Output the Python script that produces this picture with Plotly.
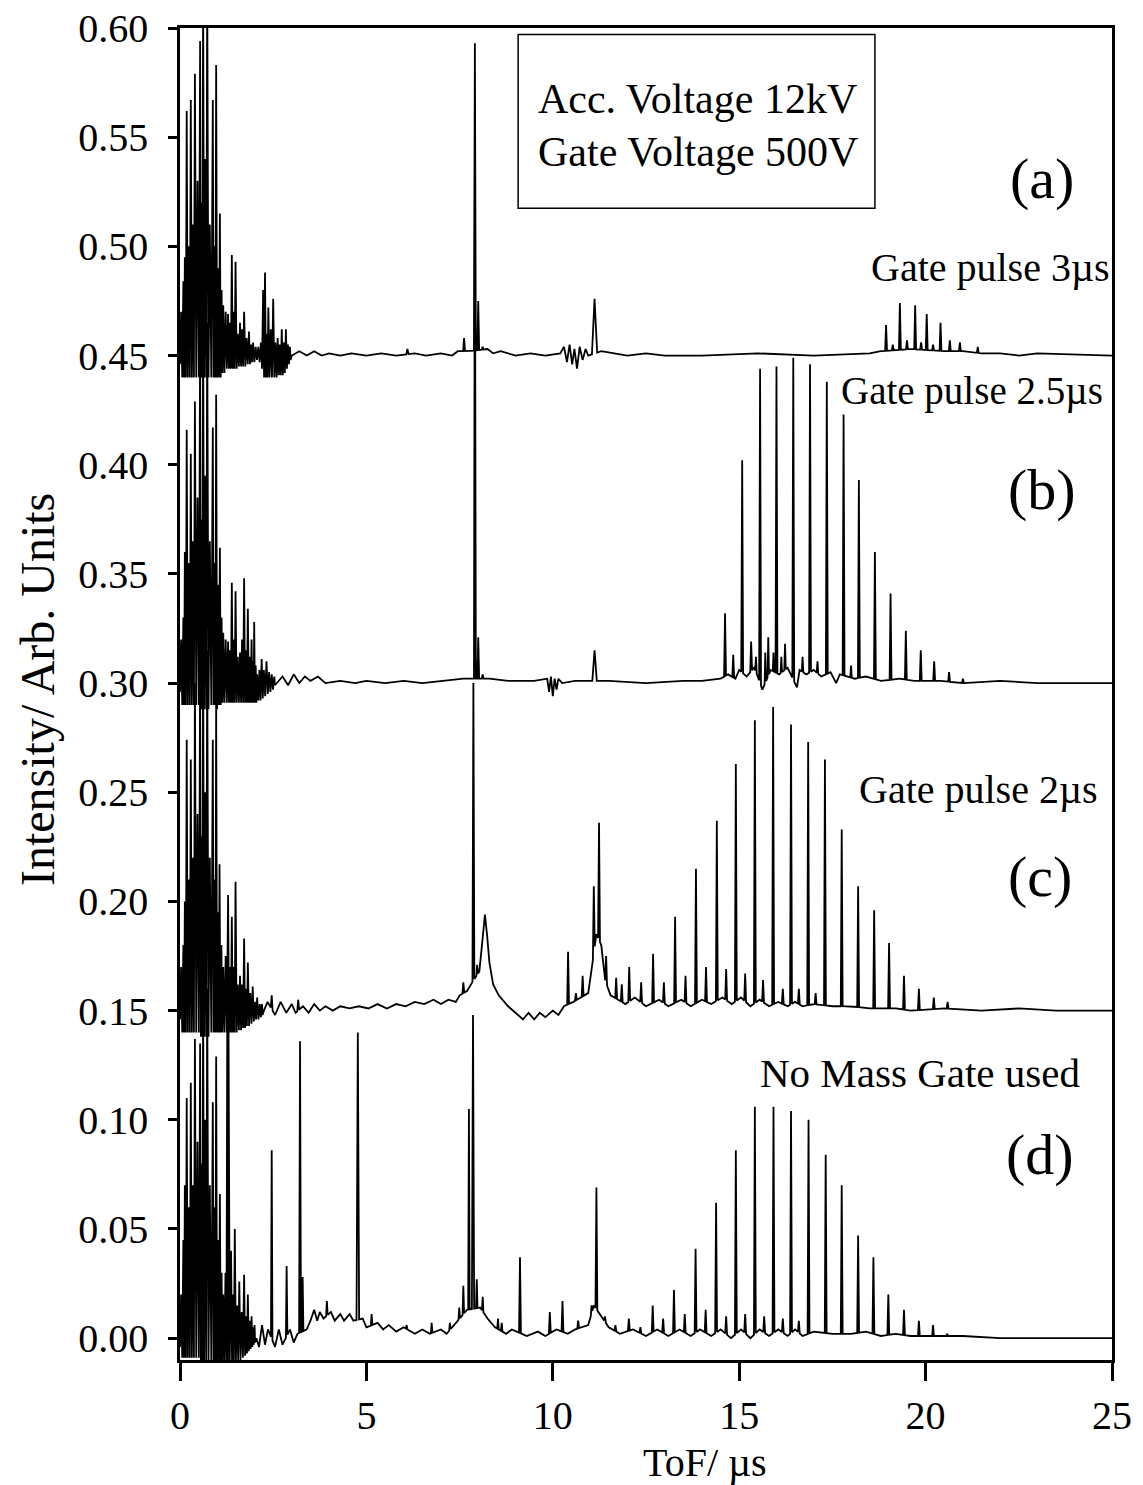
import numpy as np
import plotly.graph_objects as go

# ---------------- data ----------------
# vertical offsets of the four stacked spectra
offset_a, offset_b, offset_c, offset_d = 0.45, 0.30, 0.15, 0.00

x_ticks = [0, 5, 10, 15, 20, 25]
y_ticks = [0.00, 0.05, 0.10, 0.15, 0.20, 0.25, 0.30, 0.35, 0.40, 0.45, 0.50, 0.55, 0.60]
y_labels = ["%.2f" % v for v in y_ticks]

# early "ringing" region: (peak position, peak top above offset, trough after peak)
ring_a = [(0.03,0.020,-0.010),(0.09,0.034,-0.010),(0.13,0.045,-0.010),(0.18,0.112,-0.010),
          (0.235,0.050,-0.010),(0.29,0.117,-0.010),(0.345,0.060,-0.010),(0.40,0.129,-0.010),
          (0.47,0.080,-0.010),(0.54,0.144,-0.010),(0.58,0.070,-0.010),(0.62,0.170,-0.010),
          (0.675,0.090,-0.010),(0.73,0.170,-0.010),(0.80,0.060,-0.010),(0.88,0.117,-0.010),
          (0.925,0.050,-0.010),(0.97,0.133,-0.010),(1.02,0.040,-0.010),(1.07,0.065,-0.010),
          (1.115,0.030,-0.008),(1.16,0.023,-0.008),(1.225,0.020,-0.006),(1.29,0.019,-0.006),
          (1.34,0.015,-0.006),(1.39,0.046,-0.006),(1.44,0.020,-0.006),(1.49,0.043,-0.006),
          (1.55,0.010,-0.005),(1.61,0.015,-0.005),(1.665,0.012,-0.005),(1.72,0.020,-0.005),
          (1.785,0.008,-0.004),(1.85,0.011,-0.004),(1.905,0.005,-0.003),(1.96,0.006,-0.003),
          (2.03,0.004,-0.002),(2.10,0.004,-0.003),(2.17,0.006,-0.006),(2.23,0.030,-0.010),
          (2.28,0.038,-0.010),(2.33,0.010,-0.010),(2.37,0.022,-0.010),(2.435,0.012,-0.010),
          (2.50,0.026,-0.010),(2.56,0.006,-0.010),(2.62,0.008,-0.009),(2.675,0.005,-0.009),
          (2.73,0.012,-0.009),(2.785,0.006,-0.008),(2.84,0.012,-0.006),(2.895,0.005,-0.004),
          (2.95,0.004,-0.002)]
ring_b = [(0.03,0.020,-0.010),(0.09,0.030,-0.010),(0.13,0.060,-0.010),(0.18,0.116,-0.010),
          (0.235,0.055,-0.010),(0.29,0.105,-0.010),(0.345,0.065,-0.010),(0.40,0.129,-0.010),
          (0.47,0.085,-0.010),(0.54,0.160,-0.012),(0.58,0.075,-0.012),(0.62,0.170,-0.012),
          (0.675,0.095,-0.012),(0.73,0.165,-0.012),(0.80,0.065,-0.010),(0.88,0.117,-0.010),
          (0.925,0.055,-0.010),(0.97,0.132,-0.012),(1.02,0.045,-0.010),(1.07,0.062,-0.010),
          (1.115,0.030,-0.009),(1.16,0.023,-0.009),(1.225,0.020,-0.009),(1.29,0.019,-0.009),
          (1.34,0.015,-0.009),(1.39,0.046,-0.009),(1.44,0.020,-0.009),(1.49,0.042,-0.009),
          (1.55,0.012,-0.009),(1.61,0.014,-0.009),(1.665,0.020,-0.009),(1.72,0.048,-0.009),
          (1.77,0.015,-0.009),(1.82,0.034,-0.009),(1.87,0.012,-0.009),(1.92,0.020,-0.009),
          (1.96,0.010,-0.009),(1.99,0.028,-0.009),(2.03,0.008,-0.009),(2.07,0.004,-0.008),
          (2.13,0.006,-0.008),(2.19,0.011,-0.007),(2.25,0.006,-0.006),(2.32,0.010,-0.005),
          (2.39,0.005,-0.004),(2.46,0.004,-0.003),(2.53,0.003,-0.001)]
ring_c = [(0.03,0.020,-0.010),(0.09,0.030,-0.010),(0.13,0.050,-0.010),(0.18,0.124,-0.010),
          (0.235,0.060,-0.010),(0.29,0.115,-0.010),(0.345,0.070,-0.010),(0.40,0.150,-0.010),
          (0.47,0.090,-0.010),(0.54,0.160,-0.012),(0.58,0.080,-0.012),(0.62,0.170,-0.012),
          (0.675,0.100,-0.012),(0.73,0.165,-0.012),(0.80,0.070,-0.010),(0.88,0.124,-0.010),
          (0.925,0.060,-0.010),(0.97,0.140,-0.010),(1.02,0.045,-0.010),(1.06,0.067,-0.010),
          (1.11,0.030,-0.010),(1.16,0.020,-0.010),(1.225,0.025,-0.010),(1.29,0.053,-0.010),
          (1.34,0.020,-0.010),(1.39,0.043,-0.010),(1.44,0.020,-0.010),(1.49,0.059,-0.010),
          (1.55,0.012,-0.009),(1.61,0.016,-0.009),(1.665,0.012,-0.008),(1.72,0.033,-0.008),
          (1.77,0.010,-0.007),(1.82,0.022,-0.007),(1.885,0.008,-0.006),(1.95,0.011,-0.005),
          (2.01,0.004,-0.004),(2.07,0.006,-0.004),(2.14,0.003,-0.003),(2.20,0.003,-0.002)]
ring_d = [(0.03,0.020,-0.009),(0.09,0.045,-0.009),(0.13,0.070,-0.009),(0.18,0.110,-0.009),
          (0.235,0.060,-0.009),(0.29,0.117,-0.009),(0.345,0.070,-0.009),(0.40,0.137,-0.009),
          (0.47,0.090,-0.009),(0.54,0.135,-0.010),(0.58,0.080,-0.010),(0.62,0.160,-0.010),
          (0.675,0.100,-0.010),(0.73,0.160,-0.010),(0.80,0.070,-0.010),(0.88,0.108,-0.010),
          (0.925,0.060,-0.010),(0.97,0.129,-0.010),(1.02,0.045,-0.010),(1.07,0.066,-0.010),
          (1.115,0.030,-0.010),(1.16,0.020,-0.010),(1.22,0.030,-0.010),(1.27,0.160,-0.010),
          (1.30,0.150,-0.010),(1.37,0.040,-0.010),(1.42,0.020,-0.010),(1.47,0.050,-0.010),
          (1.53,0.015,-0.010),(1.59,0.026,-0.010),(1.655,0.012,-0.009),(1.72,0.029,-0.008),
          (1.77,0.010,-0.007),(1.82,0.020,-0.006),(1.87,0.008,-0.005),(1.92,0.010,-0.004),
          (1.96,0.005,-0.003),(2.00,0.006,-0.002)]

# baseline knots (position, level above offset), including the visible noise wiggles
base_a = [(3.0,0.000),(3.2,0.002),(3.4,0.000),(3.6,0.002),(3.8,0.000),(4.0,0.001),(4.3,0.000),
          (4.6,0.001),(5.0,0.000),(5.4,0.001),(5.8,0.000),(6.3,0.001),(6.6,0.000),(7.0,0.001),
          (7.3,0.000),(7.45,0.002),(7.8,0.002),(8.25,0.003),(8.4,0.001),(8.6,0.002),(9.0,0.000),
          (9.4,0.001),(9.8,0.000),(10.2,0.001),(10.3,0.004),(10.38,-0.003),(10.45,0.005),
          (10.52,-0.004),(10.58,0.003),(10.65,-0.006),(10.72,0.004),(10.8,-0.002),(10.88,0.003),
          (10.95,0.000),(11.3,0.002),(11.6,0.001),(12.0,0.000),(12.5,0.001),(13.0,0.000),
          (14.0,0.000),(15.5,0.001),(17.0,0.000),(18.5,0.001),(18.8,0.002),(19.6,0.003),
          (20.5,0.002),(21.0,0.002),(21.5,0.001),(22.0,0.001),(22.5,0.000),(23.0,0.001),(25.0,0.000)]
base_b = [(2.6,0.000),(2.75,0.003),(2.9,-0.001),(3.05,0.004),(3.2,0.000),(3.35,0.003),(3.5,0.001),
          (3.7,0.003),(3.9,0.000),(4.3,0.001),(4.7,0.000),(5.0,0.001),(5.5,0.000),(6.0,0.001),
          (6.5,0.000),(7.0,0.001),(7.6,0.002),(8.3,0.002),(8.8,0.001),(9.5,0.001),(9.85,0.002),
          (9.9,-0.004),(9.95,0.003),(10.0,-0.006),(10.05,0.002),(10.1,-0.003),(10.15,0.002),
          (10.25,0.000),(10.6,0.001),(11.5,0.001),(12.5,0.000),(13.5,0.001),(14.0,0.001),
          (14.5,0.002),(14.7,0.004),(14.9,0.002),(15.0,0.006),(15.2,0.003),(15.4,0.007),
          (15.5,0.003),(15.62,-0.003),(15.85,0.006),(16.07,0.004),(16.3,0.007),(16.55,-0.002),
          (16.62,0.006),(16.8,0.004),(17.0,0.006),(17.2,0.003),(17.45,0.005),(17.6,0.000),
          (17.7,0.004),(18.1,0.002),(18.4,0.003),(18.8,0.001),(19.3,0.002),(19.7,0.001),
          (20.0,0.001),(20.4,0.001),(21.0,0.000),(22.0,0.001),(23.0,0.000),(25.0,0.000)]
base_c = [(2.25,0.000),(2.35,0.004),(2.55,-0.002),(2.7,0.004),(2.85,-0.001),(3.0,0.003),(3.1,-0.001),
          (3.3,0.002),(3.45,-0.001),(3.6,0.003),(3.75,0.000),(3.9,0.002),(4.1,0.000),(4.3,0.002),
          (4.55,0.001),(4.8,0.002),(5.05,0.001),(5.3,0.003),(5.55,0.001),(5.8,0.003),(6.05,0.002),
          (6.3,0.004),(6.55,0.003),(6.8,0.005),(7.0,0.003),(7.2,0.005),(7.4,0.004),(7.5,0.007),
          (7.7,0.009),(7.8,0.012),(8.03,0.018),(8.1,0.030),(8.18,0.044),(8.24,0.034),(8.3,0.022),
          (8.4,0.012),(8.55,0.007),(8.8,0.002),(9.0,-0.001),(9.2,-0.004),(9.35,-0.001),
          (9.5,-0.004),(9.65,-0.001),(9.8,-0.003),(10.0,0.000),(10.15,-0.002),(10.3,0.002),
          (10.55,0.004),(10.95,0.008),(11.05,0.020),(11.17,0.035),(11.3,0.030),(11.38,0.015),
          (11.55,0.007),(11.95,0.003),(12.2,0.006),(12.5,0.002),(12.85,0.005),(13.1,0.002),
          (13.45,0.005),(13.7,0.002),(14.0,0.005),(14.25,0.003),(14.55,0.006),(14.8,0.003),
          (15.05,0.006),(15.3,0.002),(15.55,0.005),(15.8,0.002),(16.05,0.004),(16.3,0.002),
          (16.5,0.004),(16.7,0.002),(17.0,0.003),(17.5,0.002),(18.0,0.002),(18.5,0.001),
          (19.2,0.001),(19.6,0.000),(20.5,0.001),(21.5,0.000),(22.5,0.001),(23.5,0.000),(25.0,0.000)]
base_d = [(2.05,0.000),(2.12,-0.004),(2.2,0.006),(2.28,-0.003),(2.36,0.004),(2.55,-0.004),
          (2.65,0.004),(2.75,-0.003),(2.95,0.004),(3.05,-0.002),(3.15,0.002),(3.4,0.004),
          (3.5,0.008),(3.6,0.013),(3.68,0.008),(3.75,0.012),(3.85,0.009),(4.05,0.012),(4.15,0.008),
          (4.3,0.011),(4.4,0.008),(4.55,0.011),(4.65,0.008),(4.9,0.009),(5.0,0.005),(5.3,0.007),
          (5.45,0.004),(5.6,0.006),(5.8,0.003),(6.0,0.005),(6.3,0.002),(6.5,0.004),(6.7,0.002),
          (7.0,0.004),(7.15,0.002),(7.35,0.006),(7.55,0.010),(7.7,0.013),(8.05,0.014),(8.25,0.009),
          (8.45,0.005),(8.75,0.002),(8.9,0.004),(9.3,0.001),(9.6,0.003),(9.8,0.001),(10.1,0.004),
          (10.4,0.002),(10.6,0.004),(10.95,0.006),(11.1,0.015),(11.3,0.010),(11.5,0.005),
          (11.8,0.002),(12.15,0.004),(12.5,0.001),(12.8,0.004),(13.1,0.001),(13.4,0.004),
          (13.7,0.001),(13.95,0.004),(14.25,0.001),(14.5,0.004),(14.78,0.000),(15.05,0.004),
          (15.3,0.000),(15.55,0.004),(15.8,0.001),(16.05,0.004),(16.3,0.001),(16.5,0.004),
          (16.7,0.001),(17.0,0.003),(17.5,0.002),(18.0,0.002),(18.4,0.003),(18.8,0.001),
          (19.2,0.002),(19.6,0.001),(20.0,0.001),(21.0,0.001),(22.0,0.000),(25.0,0.000)]

# peaks: (position in us, top above offset, half width in us)
peaks_a = [(6.1,0.003,0.03),(7.62,0.008,0.025),(7.91,0.143,0.025),(8.0,0.025,0.025),
           (8.12,0.004,0.025),(11.12,0.026,0.07),(18.94,0.014,0.025),(19.12,0.005,0.025),
           (19.31,0.024,0.025),(19.5,0.007,0.025),(19.72,0.023,0.025),(19.88,0.006,0.025),
           (20.03,0.019,0.025),(20.2,0.005,0.025),(20.4,0.015,0.025),(20.65,0.007,0.025),
           (20.92,0.006,0.025),(21.4,0.004,0.025)]
peaks_b = [(7.91,0.239,0.025),(8.0,0.021,0.025),(8.12,0.004,0.025),(11.12,0.015,0.06),
           (14.62,0.032,0.025),(14.84,0.013,0.025),(15.08,0.102,0.025),(15.32,0.019,0.025),
           (15.45,0.012,0.02),(15.56,0.144,0.025),(15.7,0.014,0.02),(15.78,0.021,0.02),
           (15.92,0.014,0.02),(16.0,0.145,0.025),(16.13,0.012,0.02),(16.23,0.018,0.02),
           (16.45,0.149,0.025),(16.7,0.012,0.02),(16.9,0.146,0.025),(17.1,0.010,0.02),
           (17.35,0.138,0.025),(17.8,0.123,0.025),(18.0,0.008,0.02),(18.21,0.093,0.025),
           (18.64,0.060,0.025),(19.06,0.041,0.025),(19.47,0.024,0.025),(19.87,0.015,0.025),
           (20.23,0.010,0.025),(20.63,0.005,0.025),(21.0,0.002,0.025)]
peaks_c = [(2.46,0.007,0.025),(3.17,0.005,0.025),(7.6,0.013,0.025),(7.87,0.150,0.025),
           (7.97,0.021,0.02),(10.41,0.027,0.025),(10.62,0.008,0.025),(10.8,0.016,0.025),
           (11.1,0.057,0.025),(11.24,0.086,0.025),(11.43,0.025,0.025),(11.7,0.015,0.025),
           (11.85,0.012,0.025),(12.05,0.020,0.025),(12.37,0.013,0.025),(12.69,0.026,0.025),
           (12.98,0.013,0.025),(13.28,0.043,0.025),(13.56,0.016,0.025),(13.84,0.065,0.025),
           (14.11,0.020,0.025),(14.4,0.087,0.025),(14.65,0.019,0.025),(14.91,0.113,0.025),
           (15.16,0.017,0.025),(15.42,0.133,0.025),(15.64,0.014,0.025),(15.91,0.139,0.025),
           (16.17,0.010,0.025),(16.39,0.131,0.025),(16.6,0.010,0.025),(16.85,0.123,0.025),
           (17.05,0.008,0.025),(17.3,0.115,0.025),(17.75,0.083,0.025),(18.19,0.057,0.025),
           (18.62,0.046,0.025),(19.02,0.031,0.025),(19.42,0.016,0.025),(19.82,0.010,0.025),
           (20.22,0.006,0.025),(20.59,0.004,0.025)]
peaks_d = [(2.46,0.086,0.02),(2.86,0.033,0.02),(3.22,0.136,0.025),(3.29,0.028,0.02),
           (3.94,0.017,0.02),(4.77,0.140,0.035),(5.14,0.011,0.02),(6.08,0.006,0.02),
           (6.75,0.007,0.02),(7.24,0.007,0.02),(7.49,0.014,0.02),(7.6,0.024,0.02),
           (7.75,0.105,0.02),(7.86,0.148,0.03),(7.96,0.027,0.02),(8.12,0.019,0.02),
           (8.53,0.009,0.02),(8.63,0.007,0.02),(9.12,0.037,0.025),(9.92,0.012,0.025),
           (10.26,0.017,0.025),(10.68,0.008,0.025),(11.04,0.015,0.02),(11.17,0.069,0.025),
           (11.4,0.010,0.025),(11.68,0.006,0.025),(12.04,0.009,0.025),(12.35,0.005,0.025),
           (12.68,0.015,0.025),(12.96,0.009,0.025),(13.25,0.022,0.025),(13.54,0.011,0.025),
           (13.83,0.041,0.025),(14.1,0.013,0.025),(14.38,0.062,0.025),(14.65,0.010,0.025),
           (14.91,0.086,0.025),(15.16,0.011,0.025),(15.42,0.106,0.025),(15.67,0.010,0.025),
           (15.92,0.106,0.025),(16.17,0.009,0.025),(16.39,0.104,0.025),(16.6,0.008,0.025),
           (16.86,0.100,0.025),(17.32,0.084,0.025),(17.75,0.070,0.025),(18.19,0.047,0.025),
           (18.6,0.037,0.025),(19.0,0.020,0.025),(19.42,0.013,0.025),(19.82,0.008,0.025),
           (20.2,0.006,0.025),(20.58,0.002,0.025)]


def build(off, ring, base, peaks):
    pts = [(0.0, off - 0.004)]
    for i, (x, top, tr) in enumerate(ring):
        pts.append((x, off + top))
        nx = ring[i + 1][0] if i + 1 < len(ring) else x + 0.03
        pts.append(((x + nx) / 2.0, off + tr))
    ring_end = pts[-1][0]
    bx = np.array([b[0] for b in base])
    by = np.array([b[1] for b in base])
    wins = [(p[0] - p[2], p[0] + p[2]) for p in peaks]
    for x, y in base:
        if x <= ring_end:
            continue
        if any(a < x < b for a, b in wins):
            continue
        pts.append((x, off + y))
    for x, top, w in peaks:
        for xx in (x - w, x + w):
            pts.append((xx, off + float(np.interp(xx, bx, by))))
        pts.append((x, off + top))
    pts.sort(key=lambda p: p[0])
    return [p[0] for p in pts], [p[1] for p in pts]


fig = go.Figure()
for off, ring, base, peaks in [(offset_a, ring_a, base_a, peaks_a),
                               (offset_b, ring_b, base_b, peaks_b),
                               (offset_c, ring_c, base_c, peaks_c),
                               (offset_d, ring_d, base_d, peaks_d)]:
    xs, ys = build(off, ring, base, peaks)
    fig.add_trace(go.Scatter(x=xs, y=ys, mode="lines",
                             line=dict(color="black", width=1.8),
                             showlegend=False, hoverinfo="skip"))

FONT = "Liberation Serif"
ann = []


def txt(x, y, s, size, xanchor="left", xref="x", yref="y"):
    ann.append(dict(x=x, y=y, xref=xref, yref=yref, text=s, showarrow=False,
                    xanchor=xanchor, yanchor="middle",
                    font=dict(family=FONT, size=size, color="black")))


txt(9.55, 0.5675, "Acc. Voltage 12kV", 42)
txt(9.55, 0.5430, "Gate Voltage 500V", 42)
txt(23.12, 0.531, "(a)", 58, "center")
txt(25.0, 0.4905, "Gate pulse 3µs", 40, "right")
txt(24.81, 0.4336, "Gate pulse 2.5µs", 39, "right")
txt(23.12, 0.3887, "(b)", 58, "center")
txt(24.68, 0.2512, "Gate pulse 2µs", 40, "right")
txt(23.07, 0.2113, "(c)", 58, "center")
txt(24.2, 0.1215, "No Mass Gate used", 41, "right")
txt(23.07, 0.0839, "(d)", 58, "center")
txt(0.563, -0.077, "ToF/ µs", 40, "center", "paper", "paper")
ann.append(dict(x=-0.1534, y=0.503, xref="paper", yref="paper", text="Intensity/ Arb. Units",
                showarrow=False, textangle=-90, xanchor="center", yanchor="middle",
                font=dict(family=FONT, size=48, color="black")))

# the page body adds an 8 px margin, so the figure is made 8 px smaller
fig.update_layout(
    width=1135, height=1477,
    margin=dict(l=172, r=31, t=20, b=125, autoexpand=False),
    plot_bgcolor="white", paper_bgcolor="white",
    font=dict(family=FONT, color="black"),
    annotations=ann,
    shapes=[dict(type="rect", xref="x", yref="y", x0=9.07, x1=18.64, y0=0.5175, y1=0.597,
                 line=dict(color="black", width=1.5), fillcolor="rgba(0,0,0,0)")],
    xaxis=dict(range=[0, 25], tickvals=x_ticks, ticks="outside", ticklen=18, tickwidth=2.5,
               tickcolor="black", showline=True, linewidth=2.5, linecolor="black", mirror=True,
               showgrid=False, zeroline=False, automargin=False, ticklabeloverflow="allow",
               tickfont=dict(family=FONT, size=40, color="black")),
    yaxis=dict(range=[-0.01, 0.60], tickvals=y_ticks, ticktext=y_labels, ticks="outside",
               ticklen=9, tickwidth=2.5, tickcolor="black", showline=True, linewidth=2.5,
               linecolor="black", mirror=True, showgrid=False, zeroline=False,
               automargin=False, ticklabelstandoff=12, ticklabeloverflow="allow",
               tickfont=dict(family=FONT, size=40, color="black")),
)

fig.write_html("out.html")
